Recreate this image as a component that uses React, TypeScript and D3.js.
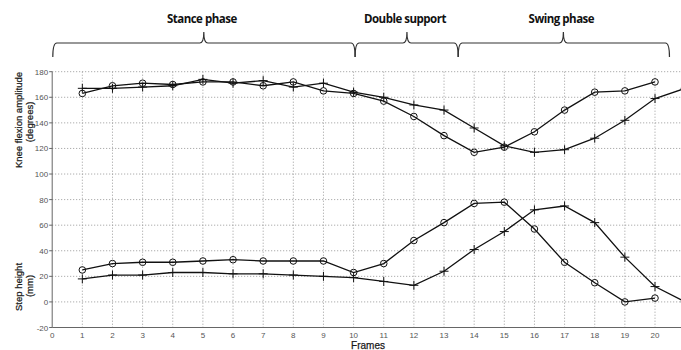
import React from 'react';
import * as d3 from 'd3';

// frames 1..20 (plus-series carry on to 21, clipped at the right edge)
const frames = d3.range(1, 21);
const framesLong = d3.range(1, 22);

const kneeCircle = [163, 169, 171, 170, 172, 172, 169, 172, 165, 163, 157, 145, 130, 117, 121, 133, 150, 164, 165, 172];
const kneePlus = [167, 167, 168, 169, 174, 171, 173, 168, 171, 164, 160, 154, 150, 136, 122, 117, 119, 128, 142, 159, 167];
const stepCircle = [25, 30, 31, 31, 32, 33, 32, 32, 32, 23, 30, 48, 62, 77, 78, 57, 31, 15, 0, 3];
const stepPlus = [18, 21, 21, 23, 23, 22, 22, 21, 20, 19, 16, 13, 24, 41, 55, 72, 75, 62, 35, 12, 0];

const xTicks = d3.range(0, 21);
const yTicks = d3.range(-20, 181, 20);

// phase braces: [label, start frame, end frame, tip frame]
const phases: [string, number, number, number][] = [
  ['Stance phase', 0.02, 10.05, 5.03],
  ['Double support', 10.05, 13.47, 11.77],
  ['Swing phase', 13.47, 20.48, 16.96],
];

const W = 681;
const H = 350;

const App = () => {
  const x = d3.scaleLinear().domain([0, 21]).range([52.2, 52.2 + 21 * 30.14]);
  const y = d3.scaleLinear().domain([-20, 180]).range([327.5, 71.7]);
  const left = x(0);
  const bottom = y(-20);
  const top = y(180);

  const line = d3.line<[number, number]>().x(d => x(d[0])).y(d => y(d[1]));
  const pts = (xs: number[], vs: number[]) => xs.map((f, i) => [f, vs[i]] as [number, number]);

  const series = [
    { data: pts(frames, kneeCircle), mark: 'o' },
    { data: pts(framesLong, kneePlus), mark: '+' },
    { data: pts(frames, stepCircle), mark: 'o' },
    { data: pts(framesLong, stepPlus), mark: '+' },
  ];

  const brace = (x0: number, x1: number, xt: number) => {
    const base = 57, hy = 43, tipY = 32, r = 4;
    return `M${x0},${base} Q${x0},${hy} ${x0 + r},${hy} L${xt - r},${hy} Q${xt},${hy} ${xt},${tipY} ` +
      `Q${xt},${hy} ${xt + r},${hy} L${x1 - r},${hy} Q${x1},${hy} ${x1},${base}`;
  };

  return (
    <div style={{ position: 'fixed', left: 0, top: 0 }}>
      <svg width={W} height={H} style={{ display: 'block', background: '#fff' }}>
        <defs>
          <clipPath id="plot">
            <rect x={left} y={top - 6} width={W - left} height={bottom - top + 12} />
          </clipPath>
        </defs>

        {/* braces + phase labels */}
        {phases.map(([label, a, b, t]) => (
          <g key={label}>
            <path d={brace(x(a), x(b), x(t))} fill="none" stroke="#333" strokeWidth={1.2} />
            <text x={x(t) - 2} y={23} textAnchor="middle" fontFamily="'Open Sans', sans-serif"
              fontWeight="bold" fontSize={11.5} letterSpacing={-0.5} fill="#111">{label}</text>
          </g>
        ))}

        {/* grid */}
        <g stroke="#9a9a9a" strokeWidth={1} strokeDasharray="1,2">
          {yTicks.filter(v => v > -20).map(v => (
            <line key={'h' + v} x1={left} x2={W} y1={y(v)} y2={y(v)} />
          ))}
          {xTicks.filter(v => v > 0).map(v => (
            <line key={'v' + v} x1={x(v)} x2={x(v)} y1={top} y2={bottom} />
          ))}
        </g>

        {/* axes */}
        <g stroke="#666" strokeWidth={1} fill="none">
          <line x1={left} x2={left} y1={top} y2={bottom} />
          <line x1={left} x2={W} y1={bottom} y2={bottom} />
          {yTicks.map(v => (
            <line key={'t' + v} x1={left - 3} x2={left} y1={y(v)} y2={y(v)} />
          ))}
        </g>
        <g fontFamily="'Liberation Sans', Arial, sans-serif" fontSize={8} fill="#555">
          {yTicks.map(v => (
            <text key={'yl' + v} x={left - 4} y={y(v) + 3} textAnchor="end">{v}</text>
          ))}
          {xTicks.map(v => (
            <text key={'xl' + v} x={x(v)} y={bottom + 10} textAnchor="middle">{v}</text>
          ))}
        </g>

        {/* axis titles */}
        <g fontFamily="'Liberation Sans', Arial, sans-serif" fontSize={9.5} fill="#1a1a1a" stroke="#1a1a1a"
          strokeWidth={0.25} textAnchor="middle">
          <text transform="translate(22,120) rotate(-90)">Knee flexion amplitude</text>
          <text transform="translate(33,122) rotate(-90)">(degrees)</text>
          <text transform="translate(22,287) rotate(-90)">Step height</text>
          <text transform="translate(33,286) rotate(-90)">(mm)</text>
          <text x={368} y={349} fontSize={10}>Frames</text>
        </g>

        {/* series */}
        <g clipPath="url(#plot)">
          {series.map((s, i) => (
            <g key={i}>
              <path d={line(s.data) || ''} fill="none" stroke="#111" strokeWidth={1.3} />
              {s.data.map(([f, v]) =>
                s.mark === 'o' ? (
                  <circle key={f} cx={x(f)} cy={y(v)} r={3.3} fill="none" stroke="#111" strokeWidth={1} />
                ) : (
                  <path key={f} d={`M${x(f) - 4.5},${y(v)}h9M${x(f)},${y(v) - 4.5}v9`} stroke="#111" strokeWidth={1} />
                )
              )}
            </g>
          ))}
        </g>
      </svg>
    </div>
  );
};

export default App;
